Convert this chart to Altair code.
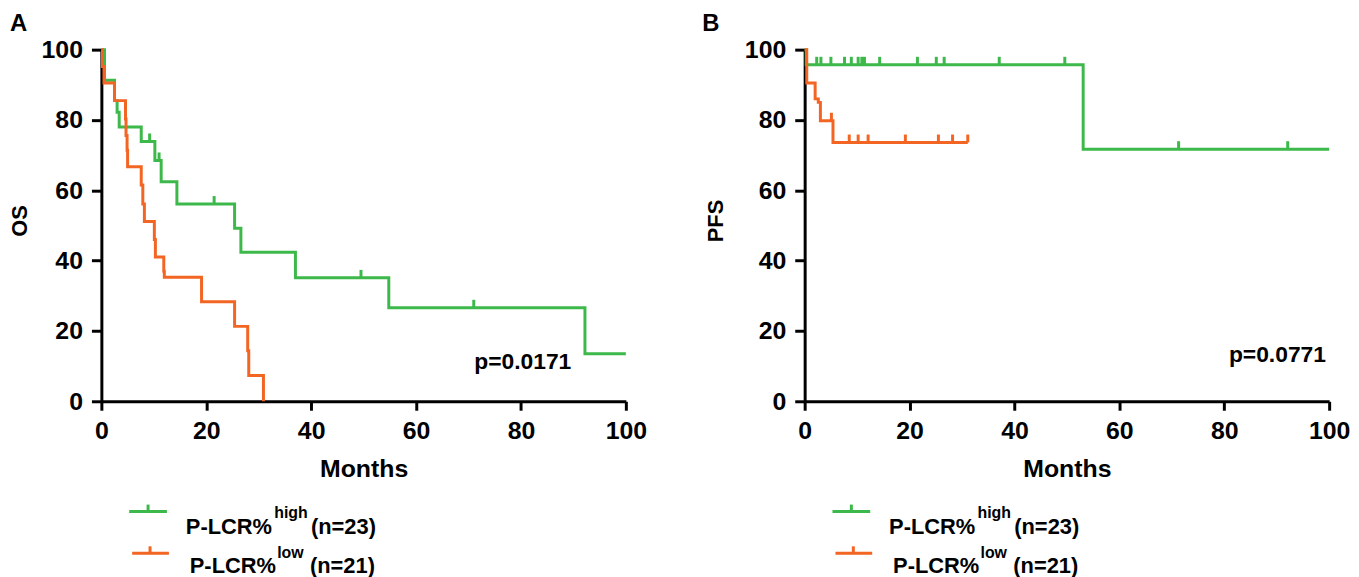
import altair as alt
import pandas as pd

GREEN = "#3DB84A"
ORANGE = "#F26522"
FONT = "Liberation Sans"

# ---------------- data ----------------
# Panel A: overall survival (OS)
os_high_t = [0, 0.6, 2.5, 3.0, 3.4, 7.6, 10.2, 11.4, 14.4, 25.4, 26.6, 37.0, 54.8, 92.2, 100]
os_high_s = [100, 91.3, 85.5, 82.2, 78.0, 73.9, 68.5, 62.4, 56.1, 49.2, 42.4, 35.1, 26.6, 13.5, 13.5]
os_high_cens = [9.2, 11.0, 21.5, 49.5, 71.0]

os_low_t = [0, 0.2, 0.5, 2.5, 4.6, 4.7, 4.9, 5.0, 7.6, 7.9, 8.2, 10.1, 10.3, 11.9, 12.0, 19.1, 25.4, 27.9, 28.1, 30.9]
os_low_s = [100, 95.2, 90.5, 85.5, 80.3, 75.6, 71.4, 66.7, 61.5, 56.1, 51.1, 46.0, 41.0, 37.0, 35.3, 28.3, 21.3, 14.4, 7.3, 0]
os_low_cens = []

# Panel B: progression-free survival (PFS)
pfs_high_t = [0, 0.3, 53.1, 100]
pfs_high_s = [100, 95.7, 71.7, 71.7]
pfs_high_cens = [2.3, 3.1, 5.0, 7.6, 8.9, 10.2, 10.9, 11.4, 14.3, 21.5, 25.1, 26.6, 37.1, 49.6, 71.3, 92.1]

pfs_low_t = [0, 0.4, 2.0, 2.6, 3.0, 5.4, 31.1]
pfs_low_s = [100, 90.5, 86.0, 85.0, 79.8, 73.6, 73.6]
pfs_low_cens = [5.1, 8.5, 10.2, 12.1, 19.2, 25.5, 28.2, 31.1]

groups = ["high", "low"]
legend_main = ["P-LCR%", "P-LCR%"]
legend_sup = ["high", "low"]
legend_n = ["(n=23)", "(n=21)"]

p_values = ["p=0.0171", "p=0.0771"]
p_pos_t = [89.6, 99.4]
p_pos_s = [9.3, 11.1]

x_ticks = [0, 20, 40, 60, 80, 100]
y_ticks = [0, 20, 40, 60, 80, 100]

# ---------------- helpers ----------------
def steps(times, surv, g):
    return pd.DataFrame({"t": times, "s": surv, "g": g})


def censors(ctimes, times, surv, g):
    lv = []
    for c in ctimes:
        v = surv[0]
        for t, s in zip(times, surv):
            if t <= c:
                v = s
        lv.append(v)
    return pd.DataFrame({"t": ctimes, "s": lv, "g": g})


xs = alt.Scale(domain=[0, 100], nice=False)
ys = alt.Scale(domain=[0, 100], nice=False)
cs = alt.Scale(domain=groups, range=[GREEN, ORANGE])

W, H = 528, 354


def panel(label, lab_x, ytitle, ytx, hi, lo, pidx):
    x_axis = alt.Axis(values=x_ticks, title="Months", titleX=W / 2, titleY=76,
                      titleBaseline="alphabetic", titleAlign="center", labelFlush=False)
    y_axis = alt.Axis(values=y_ticks, title=ytitle, titleX=ytx, titleY=172, titleAngle=270,
                      titleBaseline="middle", titleAlign="center")
    X = alt.X("t:Q", scale=xs, axis=x_axis)
    Y = alt.Y("s:Q", scale=ys, axis=y_axis)
    C = alt.Color("g:N", scale=cs, legend=None)

    layers = []
    for (t, s, c), g in zip([hi, lo], groups):
        layers.append(
            alt.Chart(steps(t, s, g)).mark_line(interpolate="step-after", strokeWidth=3)
            .encode(x=X, y=Y, color=C)
        )
    for (t, s, c), g in zip([hi, lo], groups):
        if c:
            layers.append(
                alt.Chart(censors(c, t, s, g))
                .mark_tick(orient="vertical", size=8, thickness=3, yOffset=-4, opacity=1)
                .encode(x=X, y=Y, color=C)
            )
    # p-value
    layers.append(
        alt.Chart(pd.DataFrame({"t": [p_pos_t[pidx]], "s": [p_pos_s[pidx]], "lab": [p_values[pidx]]}))
        .mark_text(align="right", baseline="alphabetic", font=FONT, fontSize=23, fontWeight="bold", color="black")
        .encode(x=X, y=Y, text="lab:N")
    )
    # custom legend
    rows = [
        dict(color=GREEN, lx1=28, lx2=66, ly=465, tx=47, mx=85, my=488, sx=174, sy=471, nx=211),
        dict(color=ORANGE, lx1=31, lx2=68, ly=507, tx=49, mx=89, my=527, sx=177, sy=512, nx=210),
    ]
    for i, r in enumerate(rows):
        one = pd.DataFrame({"m": [legend_main[i]], "sup": [legend_sup[i]], "n": [legend_n[i]]})
        base = alt.Chart(one)
        layers.append(base.mark_rule(color=r["color"], strokeWidth=3).encode(
            x=alt.value(r["lx1"]), x2=alt.value(r["lx2"]), y=alt.value(r["ly"])))
        layers.append(base.mark_rule(color=r["color"], strokeWidth=3).encode(
            x=alt.value(r["tx"]), y=alt.value(r["ly"] - 7), y2=alt.value(r["ly"])))
        layers.append(base.mark_text(align="left", baseline="alphabetic", font=FONT, fontSize=22,
                                     fontWeight="bold", color="black").encode(
            x=alt.value(r["mx"]), y=alt.value(r["my"]), text="m:N"))
        layers.append(base.mark_text(align="left", baseline="alphabetic", font=FONT, fontSize=16,
                                     fontWeight="bold", color="black").encode(
            x=alt.value(r["sx"]), y=alt.value(r["sy"]), text="sup:N"))
        layers.append(base.mark_text(align="left", baseline="alphabetic", font=FONT, fontSize=22,
                                     fontWeight="bold", color="black").encode(
            x=alt.value(r["nx"]), y=alt.value(r["my"]), text="n:N"))
    # panel letter
    layers.append(
        alt.Chart(pd.DataFrame({"l": [label]}))
        .mark_text(align="left", baseline="top", font=FONT, fontSize=24, fontWeight="bold", color="black")
        .encode(x=alt.value(lab_x), y=alt.value(-38), text="l:N")
    )
    return alt.layer(*layers).properties(width=W, height=H)


pA = panel("A", -92, "OS", -82,
           (os_high_t, os_high_s, os_high_cens), (os_low_t, os_low_s, os_low_cens), 0)
pB = panel("B", -103, "PFS", -90,
           (pfs_high_t, pfs_high_s, pfs_high_cens), (pfs_low_t, pfs_low_s, pfs_low_cens), 1)

chart = (
    alt.hconcat(pA, pB, spacing=180, bounds="flush")
    .properties(padding={"left": 0, "top": 1, "right": 0, "bottom": 0}, background="white")
    .configure_axis(domainColor="black", domainWidth=3, tickColor="black", tickWidth=3, tickSize=10,
                    labelFont=FONT, labelFontSize=25, labelFontWeight="bold", labelColor="black",
                    titleFont=FONT, titleFontWeight="bold", titleColor="black", grid=False)
    .configure_axisX(titleFontSize=25, labelPadding=8, tickSize=9)
    .configure_axisY(titleFontSize=22, labelPadding=9)
    .configure_view(stroke="transparent")
)

chart.save("out.html", embed_options={"renderer": "svg", "actions": False})
